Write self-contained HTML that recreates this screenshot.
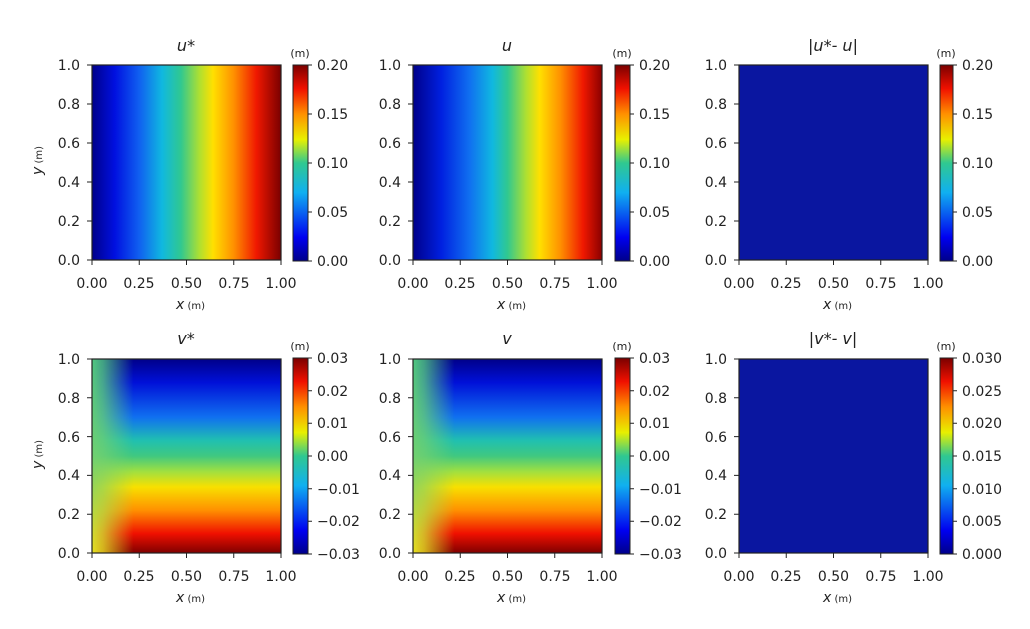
<!DOCTYPE html>
<html><head><meta charset="utf-8"><style>
body{margin:0;background:#fff}
svg text{font-family:"DejaVu Sans","Liberation Sans",sans-serif;fill:#222;font-size:14px}
.c text{text-anchor:middle}
.e text{text-anchor:end}
.t{font-size:16px;font-style:italic;text-anchor:middle}
.m{font-size:11px;text-anchor:middle}
.s{font-size:10px}
.i{font-style:italic}
.cb text{font-size:14px}
</style></head><body>
<svg width="1030" height="624" xmlns="http://www.w3.org/2000/svg">
<defs>
<linearGradient id="jetH" x1="0" y1="0" x2="1" y2="0">
<stop offset="0" stop-color="#00008a"/><stop offset="0.12" stop-color="#0010e0"/><stop offset="0.25" stop-color="#1060f0"/><stop offset="0.37" stop-color="#10b8e0"/><stop offset="0.47" stop-color="#30c890"/><stop offset="0.57" stop-color="#b0e030"/><stop offset="0.64" stop-color="#ffe000"/><stop offset="0.75" stop-color="#ff9000"/><stop offset="0.87" stop-color="#f01800"/><stop offset="1" stop-color="#7a0000"/>
</linearGradient>
<linearGradient id="jetHu" x1="0" y1="0" x2="1" y2="0">
<stop offset="0" stop-color="#00008a"/><stop offset="0.15" stop-color="#0020e0"/><stop offset="0.3" stop-color="#1070f0"/><stop offset="0.42" stop-color="#10b8e0"/><stop offset="0.5" stop-color="#30c890"/><stop offset="0.6" stop-color="#b0e030"/><stop offset="0.67" stop-color="#ffe000"/><stop offset="0.78" stop-color="#ff9000"/><stop offset="0.9" stop-color="#f01800"/><stop offset="1" stop-color="#8a0000"/>
</linearGradient>
<linearGradient id="cbar" x1="0" y1="1" x2="0" y2="0">
<stop offset="0" stop-color="#00008a"/><stop offset="0.12" stop-color="#0000f0"/><stop offset="0.35" stop-color="#10b0f0"/><stop offset="0.5" stop-color="#30c890"/><stop offset="0.62" stop-color="#e8f000"/><stop offset="0.75" stop-color="#ff9000"/><stop offset="0.88" stop-color="#f01000"/><stop offset="1" stop-color="#7a0000"/>
</linearGradient>
<linearGradient id="vV" x1="0" y1="0" x2="0" y2="1">
<stop offset="0" stop-color="#00008a"/><stop offset="0.12" stop-color="#0010d8"/><stop offset="0.3" stop-color="#1070f0"/><stop offset="0.42" stop-color="#20c0b0"/><stop offset="0.5" stop-color="#40c880"/><stop offset="0.58" stop-color="#a0e040"/><stop offset="0.66" stop-color="#f8e000"/><stop offset="0.78" stop-color="#ff9000"/><stop offset="0.9" stop-color="#f01000"/><stop offset="1" stop-color="#800000"/>
</linearGradient>
<linearGradient id="leftV" x1="0" y1="0" x2="0" y2="1">
<stop offset="0" stop-color="#50c880"/><stop offset="0.5" stop-color="#70d070"/><stop offset="1" stop-color="#e8e020"/>
</linearGradient>
<linearGradient id="fadeH" x1="0" y1="0" x2="1" y2="0">
<stop offset="0" stop-color="#fff" stop-opacity="1"/><stop offset="0.06" stop-color="#fff" stop-opacity="0.8"/><stop offset="0.22" stop-color="#fff" stop-opacity="0"/>
</linearGradient>
<mask id="mk" maskContentUnits="objectBoundingBox"><rect width="1" height="1" fill="url(#fadeH)"/></mask>
</defs>

<rect x="92" y="65" width="189" height="195" fill="url(#jetH)"/>
<rect x="413" y="65" width="189" height="195" fill="url(#jetHu)"/>
<rect x="739" y="65" width="189" height="195" fill="#0a16a0"/>
<rect x="92" y="359" width="189" height="194" fill="url(#vV)"/>
<rect x="92" y="359" width="189" height="194" fill="url(#leftV)" mask="url(#mk)"/>
<rect x="413" y="359" width="189" height="194" fill="url(#vV)"/>
<rect x="413" y="359" width="189" height="194" fill="url(#leftV)" mask="url(#mk)"/>
<rect x="739" y="359" width="189" height="194" fill="#0a16a0"/>

<g fill="none" stroke="#222" stroke-width="1.2">
<rect x="92" y="65" width="189" height="195"/><rect x="413" y="65" width="189" height="195"/><rect x="739" y="65" width="189" height="195"/>
<rect x="92" y="359" width="189" height="194"/><rect x="413" y="359" width="189" height="194"/><rect x="739" y="359" width="189" height="194"/>
</g>
<g stroke="#222" stroke-width="1">
<rect x="293" y="65" width="15" height="196" fill="url(#cbar)"/>
<rect x="615" y="65" width="15" height="196" fill="url(#cbar)"/>
<rect x="940" y="65" width="13" height="196" fill="url(#cbar)"/>
<rect x="293" y="358" width="15" height="196" fill="url(#cbar)"/>
<rect x="615" y="358" width="15" height="196" fill="url(#cbar)"/>
<rect x="940" y="358" width="13" height="196" fill="url(#cbar)"/>
</g>

<g stroke="#222" stroke-width="1">
<path d="M92 260v5M139.25 260v5M186.5 260v5M233.75 260v5M281 260v5M413 260v5M460.25 260v5M507.5 260v5M554.75 260v5M602 260v5M739 260v5M786.25 260v5M833.5 260v5M880.75 260v5M928 260v5"/>
<path d="M92 553v5M139.25 553v5M186.5 553v5M233.75 553v5M281 553v5M413 553v5M460.25 553v5M507.5 553v5M554.75 553v5M602 553v5M739 553v5M786.25 553v5M833.5 553v5M880.75 553v5M928 553v5"/>
<path d="M87 260h5M87 221h5M87 182h5M87 143h5M87 104h5M87 65h5M408 260h5M408 221h5M408 182h5M408 143h5M408 104h5M408 65h5M734 260h5M734 221h5M734 182h5M734 143h5M734 104h5M734 65h5"/>
<path d="M87 553h5M87 514.2h5M87 475.4h5M87 436.6h5M87 397.8h5M87 359h5M408 553h5M408 514.2h5M408 475.4h5M408 436.6h5M408 397.8h5M408 359h5M734 553h5M734 514.2h5M734 475.4h5M734 436.6h5M734 397.8h5M734 359h5"/>
<path d="M308 261h4M308 212h4M308 163h4M308 114h4M308 65h4M630 261h4M630 212h4M630 163h4M630 114h4M630 65h4M953 261h4M953 212h4M953 163h4M953 114h4M953 65h4"/>
<path d="M308 554h4M308 521.3h4M308 488.7h4M308 456h4M308 423.3h4M308 390.7h4M308 358h4M630 554h4M630 521.3h4M630 488.7h4M630 456h4M630 423.3h4M630 390.7h4M630 358h4M953 554h4M953 521.3h4M953 488.7h4M953 456h4M953 423.3h4M953 390.7h4M953 358h4"/>
</g>

<g class="c">
<text x="92" y="288">0.00</text><text x="139" y="288">0.25</text><text x="186.5" y="288">0.50</text><text x="234" y="288">0.75</text><text x="281" y="288">1.00</text>
<text x="413" y="288">0.00</text><text x="460" y="288">0.25</text><text x="507.5" y="288">0.50</text><text x="555" y="288">0.75</text><text x="602" y="288">1.00</text>
<text x="739" y="288">0.00</text><text x="786" y="288">0.25</text><text x="833.5" y="288">0.50</text><text x="881" y="288">0.75</text><text x="928" y="288">1.00</text>
<text x="92" y="581">0.00</text><text x="139" y="581">0.25</text><text x="186.5" y="581">0.50</text><text x="234" y="581">0.75</text><text x="281" y="581">1.00</text>
<text x="413" y="581">0.00</text><text x="460" y="581">0.25</text><text x="507.5" y="581">0.50</text><text x="555" y="581">0.75</text><text x="602" y="581">1.00</text>
<text x="739" y="581">0.00</text><text x="786" y="581">0.25</text><text x="833.5" y="581">0.50</text><text x="881" y="581">0.75</text><text x="928" y="581">1.00</text>
</g>
<g class="e">
<text x="80" y="265">0.0</text><text x="80" y="226">0.2</text><text x="80" y="187">0.4</text><text x="80" y="148">0.6</text><text x="80" y="109">0.8</text><text x="80" y="70">1.0</text>
<text x="401" y="265">0.0</text><text x="401" y="226">0.2</text><text x="401" y="187">0.4</text><text x="401" y="148">0.6</text><text x="401" y="109">0.8</text><text x="401" y="70">1.0</text>
<text x="727" y="265">0.0</text><text x="727" y="226">0.2</text><text x="727" y="187">0.4</text><text x="727" y="148">0.6</text><text x="727" y="109">0.8</text><text x="727" y="70">1.0</text>
<text x="80" y="558">0.0</text><text x="80" y="519">0.2</text><text x="80" y="480">0.4</text><text x="80" y="442">0.6</text><text x="80" y="403">0.8</text><text x="80" y="364">1.0</text>
<text x="401" y="558">0.0</text><text x="401" y="519">0.2</text><text x="401" y="480">0.4</text><text x="401" y="442">0.6</text><text x="401" y="403">0.8</text><text x="401" y="364">1.0</text>
<text x="727" y="558">0.0</text><text x="727" y="519">0.2</text><text x="727" y="480">0.4</text><text x="727" y="442">0.6</text><text x="727" y="403">0.8</text><text x="727" y="364">1.0</text>
</g>
<g class="cb">
<text x="317" y="266">0.00</text><text x="317" y="217">0.05</text><text x="317" y="168">0.10</text><text x="317" y="119">0.15</text><text x="317" y="70">0.20</text>
<text x="639" y="266">0.00</text><text x="639" y="217">0.05</text><text x="639" y="168">0.10</text><text x="639" y="119">0.15</text><text x="639" y="70">0.20</text>
<text x="962" y="266">0.00</text><text x="962" y="217">0.05</text><text x="962" y="168">0.10</text><text x="962" y="119">0.15</text><text x="962" y="70">0.20</text>
<text x="317" y="559">−0.03</text><text x="317" y="526">−0.02</text><text x="317" y="494">−0.01</text><text x="317" y="461">0.00</text><text x="317" y="428">0.01</text><text x="317" y="396">0.02</text><text x="317" y="363">0.03</text>
<text x="639" y="559">−0.03</text><text x="639" y="526">−0.02</text><text x="639" y="494">−0.01</text><text x="639" y="461">0.00</text><text x="639" y="428">0.01</text><text x="639" y="396">0.02</text><text x="639" y="363">0.03</text>
<text x="962" y="559">0.000</text><text x="962" y="526">0.005</text><text x="962" y="494">0.010</text><text x="962" y="461">0.015</text><text x="962" y="428">0.020</text><text x="962" y="396">0.025</text><text x="962" y="363">0.030</text>
</g>
<text class="m" x="300" y="57">(m)</text><text class="m" x="622" y="57">(m)</text><text class="m" x="946" y="57">(m)</text>
<text class="m" x="300" y="350">(m)</text><text class="m" x="622" y="350">(m)</text><text class="m" x="946" y="350">(m)</text>
<text class="t" x="186" y="51">u*</text><text class="t" x="507" y="51">u</text><text class="t" x="833" y="51">|u*- u|</text>
<text class="t" x="186" y="344">v*</text><text class="t" x="507" y="344">v</text><text class="t" x="833" y="344">|v*- v|</text>
<text x="176" y="309"><tspan class="i">x</tspan><tspan class="s"> (m)</tspan></text>
<text x="497" y="309"><tspan class="i">x</tspan><tspan class="s"> (m)</tspan></text>
<text x="823" y="309"><tspan class="i">x</tspan><tspan class="s"> (m)</tspan></text>
<text x="176" y="602"><tspan class="i">x</tspan><tspan class="s"> (m)</tspan></text>
<text x="497" y="602"><tspan class="i">x</tspan><tspan class="s"> (m)</tspan></text>
<text x="823" y="602"><tspan class="i">x</tspan><tspan class="s"> (m)</tspan></text>
<text transform="translate(42,175) rotate(-90)"><tspan class="i">y</tspan><tspan class="s"> (m)</tspan></text>
<text transform="translate(42,469) rotate(-90)"><tspan class="i">y</tspan><tspan class="s"> (m)</tspan></text>
</svg>
</body></html>
